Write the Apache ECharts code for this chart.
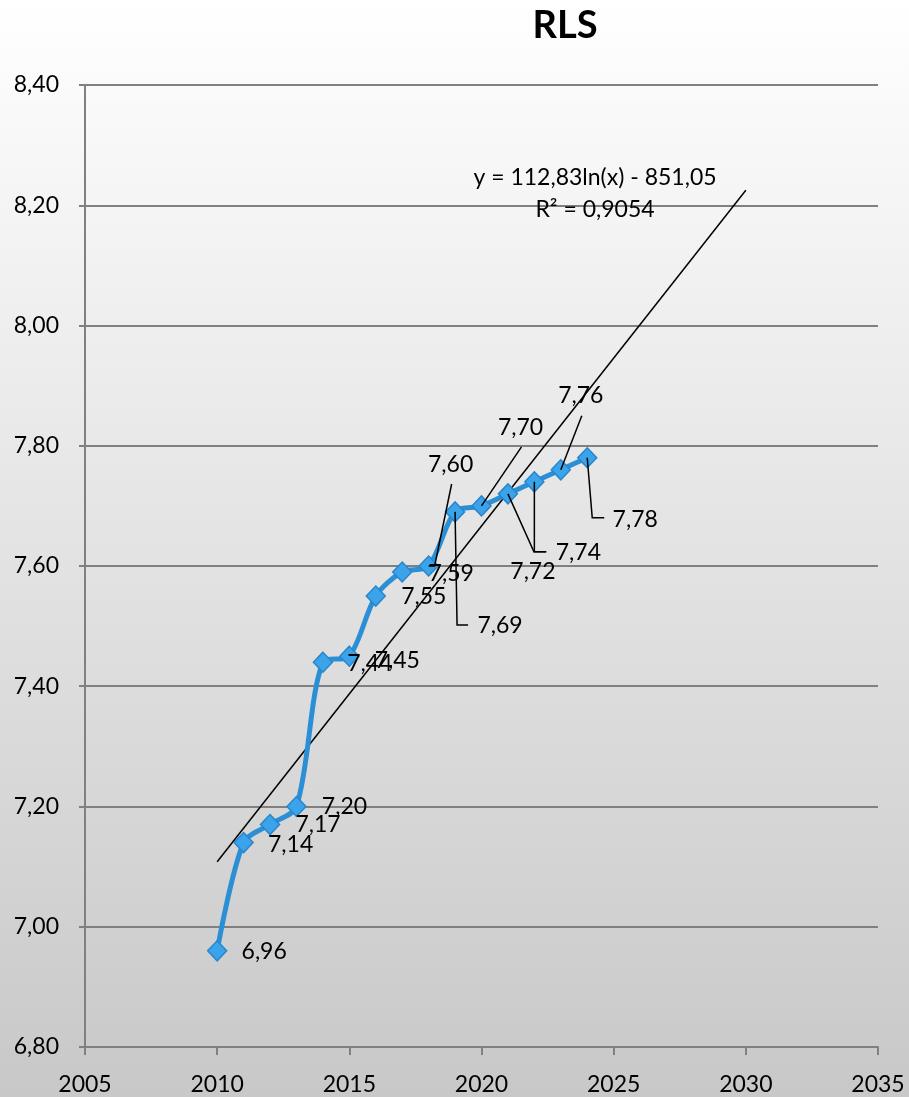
<!DOCTYPE html>
<html>
<head>
<meta charset="utf-8">
<script src="https://cdn.jsdelivr.net/npm/echarts@6/dist/echarts.min.js"></script>
<style>
html,body{margin:0;padding:0;}
#chart{width:909px;height:1097px;background:linear-gradient(to bottom,#ffffff 0%,#e6e6e6 45%,#c8c8c8 100%);}
</style>
</head>
<body>
<div id="chart"></div>
<script>
// ---- data ----
const years = [2010, 2011, 2012, 2013, 2014, 2015, 2016, 2017, 2018, 2019, 2020, 2021, 2022, 2023, 2024];
const values = [6.96, 7.14, 7.17, 7.20, 7.44, 7.45, 7.55, 7.59, 7.60, 7.69, 7.70, 7.72, 7.74, 7.76, 7.78];
const labels = ['6,96', '7,14', '7,17', '7,20', '7,44', '7,45', '7,55', '7,59', '7,60', '7,69', '7,70', '7,72', '7,74', '7,76', '7,78'];
const trendYears = [2010, 2030];
const trendValues = [7.108, 8.225];
const xTicks = [2005, 2010, 2015, 2020, 2025, 2030, 2035];
const yTicks = ['6,80', '7,00', '7,20', '7,40', '7,60', '7,80', '8,00', '8,20', '8,40'];
const titleText = 'RLS';
const equationText = 'y = 112,83ln(x) - 851,05';
const r2Text = 'R² = 0,9054';

// ---- label layout (pixel offsets from each marker: text centre, optional leader polyline) ----
const labelLayout = [
  { t: [47, 1] },
  { t: [47, 2] },
  { t: [48, 0] },
  { t: [48, 0] },
  { t: [47, 1] },
  { t: [48, 4] },
  { t: [48, 1] },
  { t: [49, 2] },
  { t: [22, -101], l: [[0, 0], [6, 0], [23, -82]] },
  { t: [45, 114], l: [[0, 0], [2, 113], [13, 113]] },
  { t: [39, -78], l: [[0, 0], [40, -59]] },
  { t: [25, 78], l: [[0, 0], [26, 58], [38, 58]] },
  { t: [44, 71], l: [[0, 0], [0, 70], [12, 70]] },
  { t: [20, -74], l: [[0, 0], [21, -54]] },
  { t: [48, 62], l: [[0, 0], [5, 60], [17, 60]] }
];

const FONT = 'Lato, "Open Sans", sans-serif';
const chart = echarts.init(document.getElementById('chart'), null, { renderer: 'canvas' });

const option = {
  backgroundColor: 'transparent',
  animation: false,
  title: {
    text: titleText,
    left: 560, top: 2, textAlign: 'center',
    textStyle: { fontFamily: FONT, fontSize: 38, fontWeight: 'bold', color: '#000' }
  },
  grid: { left: 85, right: 31, top: 85, bottom: 50 },
  xAxis: {
    type: 'value', min: 2005, max: 2035, interval: 5,
    axisLine: { show: true, lineStyle: { color: '#808080', width: 2 } },
    axisTick: { show: true, length: 8, lineStyle: { color: '#808080', width: 2 } },
    splitLine: { show: false },
    axisLabel: {
      margin: 26, fontFamily: FONT, fontSize: 23, color: '#000',
      formatter: v => xTicks.includes(v) ? String(v) : ''
    }
  },
  yAxis: {
    type: 'value', min: 6.8, max: 8.4, interval: 0.2,
    axisLine: { show: true, lineStyle: { color: '#808080', width: 2 } },
    axisTick: { show: true, length: 6, lineStyle: { color: '#808080', width: 2 } },
    splitLine: { show: true, lineStyle: { color: '#808080', width: 2 } },
    axisLabel: {
      margin: 26, fontFamily: FONT, fontSize: 23, color: '#000',
      formatter: v => yTicks[Math.round((v - 6.8) / 0.2)]
    }
  },
  graphic: [
    { type: 'text', x: 595, y: 178, z: 10, style: { text: equationText, fontFamily: FONT, fontSize: 23, fill: '#000', textAlign: 'center', textVerticalAlign: 'middle' } },
    { type: 'text', x: 595, y: 210, z: 10, style: { text: r2Text, fontFamily: FONT, fontSize: 23, fill: '#000', textAlign: 'center', textVerticalAlign: 'middle' } }
  ],
  series: [
    {
      type: 'line', name: 'trend',
      data: trendYears.map((y, i) => [y, trendValues[i]]),
      symbol: 'none', silent: true,
      lineStyle: { color: '#000', width: 1.5 }, z: 3
    },
    {
      type: 'line', name: 'RLS',
      data: years.map((y, i) => [y, values[i]]),
      smooth: 0.3,
      symbol: 'diamond', symbolSize: [19, 20],
      lineStyle: { color: '#2b8fd6', width: 5 },
      itemStyle: { color: '#3aa3ea', borderColor: '#2a86cc', borderWidth: 1.5 },
      z: 4
    },
    {
      type: 'custom', name: 'labels',
      data: years.map((y, i) => [y, values[i]]),
      z: 5,
      renderItem: function (params, api) {
        const p = api.coord([api.value(0), api.value(1)]);
        const lay = labelLayout[params.dataIndex];
        const children = [];
        if (lay.l) {
          children.push({
            type: 'polyline',
            shape: { points: lay.l.map(o => [p[0] + o[0], p[1] + o[1]]) },
            style: { stroke: '#000', lineWidth: 1.5, fill: null }
          });
        }
        children.push({
          type: 'text',
          style: {
            text: labels[params.dataIndex],
            x: p[0] + lay.t[0], y: p[1] + lay.t[1],
            align: 'center', verticalAlign: 'middle',
            fontFamily: FONT, fontSize: 23, fill: '#000'
          }
        });
        return { type: 'group', children: children };
      }
    }
  ]
};
chart.setOption(option);
</script>
</body>
</html>
